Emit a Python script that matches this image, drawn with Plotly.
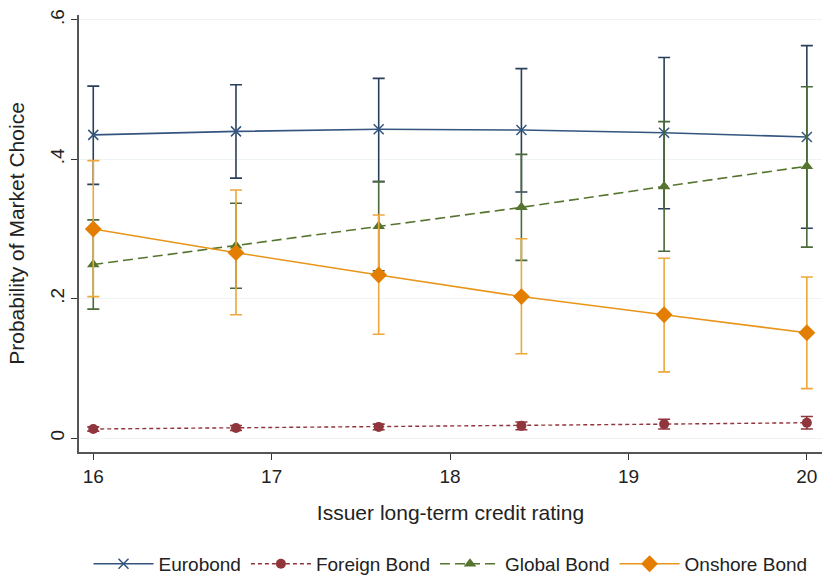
import plotly.graph_objects as go

x = [16, 16.8, 17.6, 18.4, 19.2, 20]

euro = [0.435, 0.440, 0.443, 0.442, 0.438, 0.432]
euro_lo = [0.364, 0.373, 0.368, 0.353, 0.329, 0.301]
euro_hi = [0.505, 0.507, 0.516, 0.530, 0.546, 0.563]

foreign = [0.013, 0.0145, 0.016, 0.0175, 0.020, 0.022]
foreign_lo = [0.010, 0.011, 0.012, 0.012, 0.013, 0.013]
foreign_hi = [0.016, 0.018, 0.020, 0.023, 0.027, 0.031]

glob = [0.249, 0.276, 0.304, 0.331, 0.361, 0.390]
glob_lo = [0.185, 0.215, 0.240, 0.255, 0.268, 0.274]
glob_hi = [0.313, 0.337, 0.368, 0.407, 0.454, 0.504]

onshore = [0.300, 0.266, 0.234, 0.203, 0.177, 0.151]
onshore_lo = [0.203, 0.177, 0.149, 0.121, 0.095, 0.071]
onshore_hi = [0.398, 0.356, 0.320, 0.286, 0.258, 0.231]

ytick_vals = [0, 0.2, 0.4, 0.6]
ytick_text = ["0", ".2", ".4", ".6"]
xtick_vals = [16, 17, 18, 19, 20]


def err(mean, lo, hi, color):
    return dict(type="data", symmetric=False,
                array=[h - m for m, h in zip(mean, hi)],
                arrayminus=[m - l for m, l in zip(mean, lo)],
                color=color, thickness=1.6, width=6)


fig = go.Figure()
fig.add_trace(go.Scatter(
    x=x, y=euro, name="Eurobond", mode="lines+markers",
    line=dict(color="#33557f", width=1.6),
    marker=dict(symbol="x-thin", size=10, line=dict(color="#33557f", width=1.5)),
    error_y=err(euro, euro_lo, euro_hi, "#2a3f5a")))
fig.add_trace(go.Scatter(
    x=x, y=foreign, name="Foreign Bond", mode="lines+markers",
    line=dict(color="#90353b", width=1.4, dash="4px,3px"),
    marker=dict(symbol="circle", size=10, color="#90353b"),
    error_y=err(foreign, foreign_lo, foreign_hi, "#90353b")))
fig.add_trace(go.Scatter(
    x=x, y=glob, name="Global Bond", mode="lines+markers",
    line=dict(color="#55752f", width=1.6, dash="10px,5px"),
    marker=dict(symbol="triangle-up", size=11, color="#55752f"),
    error_y=err(glob, glob_lo, glob_hi, "#4a6a3a")))
fig.add_trace(go.Scatter(
    x=x, y=onshore, name="Onshore Bond", mode="lines+markers",
    line=dict(color="#e8951a", width=1.6),
    marker=dict(symbol="diamond", size=13, color="#e37e00"),
    error_y=err(onshore, onshore_lo, onshore_hi, "#eea73a")))

font_family = "Liberation Sans, Arial, sans-serif"

fig.update_layout(
    width=822, height=583,
    margin=dict(l=79, r=0, t=15, b=126),
    paper_bgcolor="white", plot_bgcolor="white",
    font=dict(family=font_family, size=18, color="#222222"),
    showlegend=True,
    legend=dict(orientation="h", x=0.5, xanchor="center", y=-0.256, yanchor="middle",
                font=dict(size=19, color="#222222"), itemwidth=60,
                traceorder="normal"),
    xaxis=dict(range=[15.92, 20.085], tickvals=xtick_vals, ticks="outside",
               ticklen=6, tickwidth=1.2, tickcolor="#333333",
               showline=True, linecolor="#555555", linewidth=1.5,
               showgrid=False, zeroline=False,
               tickfont=dict(size=19),
               title=dict(text="Issuer long-term credit rating", font=dict(size=21), standoff=20)),
    yaxis=dict(range=[-0.02, 0.607], tickvals=ytick_vals, ticktext=ytick_text,
               ticks="outside", ticklen=6, tickwidth=1.2, tickcolor="#333333",
               tickangle=-90, tickfont=dict(size=19),
               showline=True, linecolor="#555555", linewidth=1.5,
               showgrid=True, gridcolor="#eef3f4", gridwidth=1, zeroline=False,
               title=dict(text="Probability of Market Choice", font=dict(size=21), standoff=16)),
)

fig.write_html("out.html")
